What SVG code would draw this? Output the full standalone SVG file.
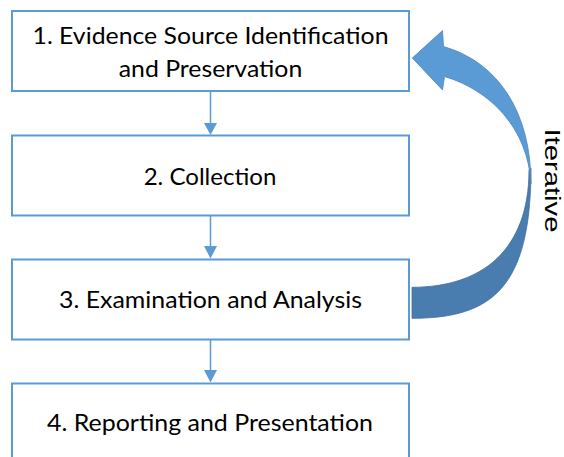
<svg xmlns="http://www.w3.org/2000/svg" width="564" height="457" viewBox="0 0 564 457">
  <style>
    .box { fill: #FFFFFF; stroke: #5B9BD5; stroke-width: 2; }
    .lbl { font-family: Lato, "Liberation Sans", sans-serif; font-size: 24px; fill: #000000; text-anchor: middle; }
    .conn { stroke: #5B9BD5; stroke-width: 1.5; fill: none; }
    .head { fill: #5B9BD5; }
    .front { fill: #5B9BD5; stroke: #4E86BD; stroke-width: 0.8; stroke-linejoin: miter; }
    .back { fill: #497DAF; stroke: #41709E; stroke-width: 0.8; }
    .side { font-family: "Liberation Sans", Arial, sans-serif; font-size: 22.5px; fill: #000000; text-anchor: middle; }
  </style>
  <rect width="564" height="457" fill="#FFFFFF"/>

  <g id="connectors">
    <line class="conn" x1="210.5" y1="91" x2="210.5" y2="124"/>
    <polygon class="head" points="204,123 217,123 210.5,135"/>
    <line class="conn" x1="210.5" y1="215.5" x2="210.5" y2="247"/>
    <polygon class="head" points="204,246 217,246 210.5,258.5"/>
    <line class="conn" x1="210.5" y1="339.5" x2="210.5" y2="371"/>
    <polygon class="head" points="204,370 217,370 210.5,382.5"/>
  </g>

  <g id="iterative-arrow">
    <path class="back" d="M 412,318.3 C 492,318.3 531,288 531,168 L 529,170 C 529,250 482,287.3 412,287.3 Z"/>
    <path class="front" d="M 412.3,58 L 442.5,30.5 L 443.5,46.5 C 498,62 531,112 531,184 C 528,128 490,90 444.5,76.5 L 442.5,90 Z"/>
  </g>

  <g id="node1">
    <rect class="box" x="12" y="11" width="397" height="80"/>
    <text class="lbl" x="210.5" y="44" textLength="356" lengthAdjust="spacingAndGlyphs">1. Evidence Source Identification</text>
    <text class="lbl" x="210.5" y="76.5" textLength="183.5" lengthAdjust="spacingAndGlyphs">and Preservation</text>
  </g>

  <g id="node2">
    <rect class="box" x="12" y="135.5" width="397" height="80"/>
    <text class="lbl" x="210" y="185" textLength="132.7" lengthAdjust="spacingAndGlyphs">2. Collection</text>
  </g>

  <g id="node3">
    <rect class="box" x="12" y="259.5" width="397" height="80"/>
    <text class="lbl" x="210.5" y="307.5" textLength="303" lengthAdjust="spacingAndGlyphs">3. Examination and Analysis</text>
  </g>

  <g id="node4">
    <rect class="box" x="12" y="383.5" width="397" height="80"/>
    <text class="lbl" x="210" y="431" textLength="326" lengthAdjust="spacingAndGlyphs">4. Reporting and Presentation</text>
  </g>

  <g id="label-iterative">
    <text class="side" transform="translate(545,180.5) rotate(90)" x="0" y="0" textLength="104" lengthAdjust="spacingAndGlyphs">Iterative</text>
  </g>
</svg>
